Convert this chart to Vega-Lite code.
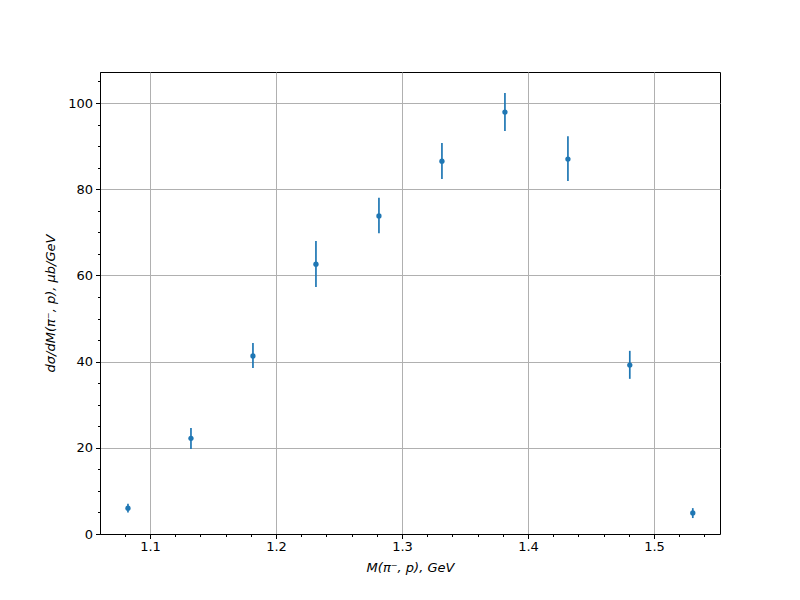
{
  "$schema": "https://vega.github.io/schema/vega-lite/v6.json",
  "width": 620,
  "height": 462,
  "autosize": {"type": "none"},
  "padding": {"left": 100, "top": 72, "right": 80, "bottom": 66},
  "background": "white",
  "config": {
    "view": {"stroke": "black", "strokeWidth": 1},
    "axis": {
      "domainColor": "black",
      "tickColor": "black",
      "labelColor": "black",
      "titleColor": "black",
      "labelFont": "DejaVu Sans",
      "titleFont": "DejaVu Sans",
      "labelFontSize": 13,
      "titleFontSize": 13,
      "titleFontWeight": "normal",
      "gridColor": "#b0b0b0",
      "gridWidth": 1
    }
  },
  "data": {
    "values": [
      {"m": 1.0825, "v": 6.0, "lo": 5.0, "hi": 7.0},
      {"m": 1.1325, "v": 22.2, "lo": 19.7, "hi": 24.6},
      {"m": 1.1817, "v": 41.3, "lo": 38.5, "hi": 44.3},
      {"m": 1.2317, "v": 62.6, "lo": 57.3, "hi": 68.0},
      {"m": 1.2817, "v": 73.8, "lo": 69.8, "hi": 78.0},
      {"m": 1.3317, "v": 86.5, "lo": 82.4, "hi": 90.7},
      {"m": 1.3817, "v": 97.9, "lo": 93.5, "hi": 102.3},
      {"m": 1.4317, "v": 87.0, "lo": 81.9, "hi": 92.3},
      {"m": 1.4808, "v": 39.2, "lo": 36.0, "hi": 42.5},
      {"m": 1.5308, "v": 4.9, "lo": 3.7, "hi": 6.0}
    ]
  },
  "encoding": {
    "x": {
      "field": "m",
      "type": "quantitative",
      "scale": {"domain": [1.0603, 1.5524], "nice": false, "zero": false},
      "axis": {
        "title": "M(π⁻, p), GeV",
        "titleFontStyle": "italic",
        "titlePadding": 8,
        "values": [1.08, 1.1, 1.12, 1.14, 1.16, 1.18, 1.2, 1.22, 1.24, 1.26, 1.28, 1.3, 1.32, 1.34, 1.36, 1.38, 1.4, 1.42, 1.44, 1.46, 1.48, 1.5, 1.52, 1.54],
        "labelExpr": "abs(datum.value*10 - round(datum.value*10)) < 0.001 ? format(datum.value, '.1f') : ''",
        "tickSize": {"condition": {"test": "abs(datum.value*10 - round(datum.value*10)) < 0.001", "value": 4.5}, "value": 2.5},
        "gridOpacity": {"condition": {"test": "abs(datum.value*10 - round(datum.value*10)) < 0.001", "value": 1}, "value": 0},
        "grid": true,
        "labelPadding": 2,
        "labelFlush": false,
        "labelOverlap": false
      }
    },
    "y": {
      "type": "quantitative",
      "scale": {"domain": [0, 107.2], "nice": false, "zero": false},
      "axis": {
        "title": "dσ/dM(π⁻, p), μb/GeV",
        "titleFontStyle": "italic",
        "titlePadding": 10,
        "values": [0, 5, 10, 15, 20, 25, 30, 35, 40, 45, 50, 55, 60, 65, 70, 75, 80, 85, 90, 95, 100, 105],
        "labelExpr": "datum.value % 20 == 0 ? format(datum.value, 'd') : ''",
        "tickSize": {"condition": {"test": "datum.value % 20 == 0", "value": 4.5}, "value": 2.5},
        "gridOpacity": {"condition": {"test": "datum.value % 20 == 0", "value": 1}, "value": 0},
        "grid": true,
        "labelPadding": 3,
        "labelFlush": false,
        "labelOverlap": false
      }
    }
  },
  "layer": [
    {
      "mark": {"type": "rule", "color": "#1f77b4", "strokeWidth": 1.7},
      "encoding": {
        "y": {"field": "lo", "type": "quantitative"},
        "y2": {"field": "hi"}
      }
    },
    {
      "mark": {"type": "point", "filled": true, "color": "#1f77b4", "opacity": 1, "size": 28},
      "encoding": {
        "y": {"field": "v", "type": "quantitative"}
      }
    }
  ]
}
